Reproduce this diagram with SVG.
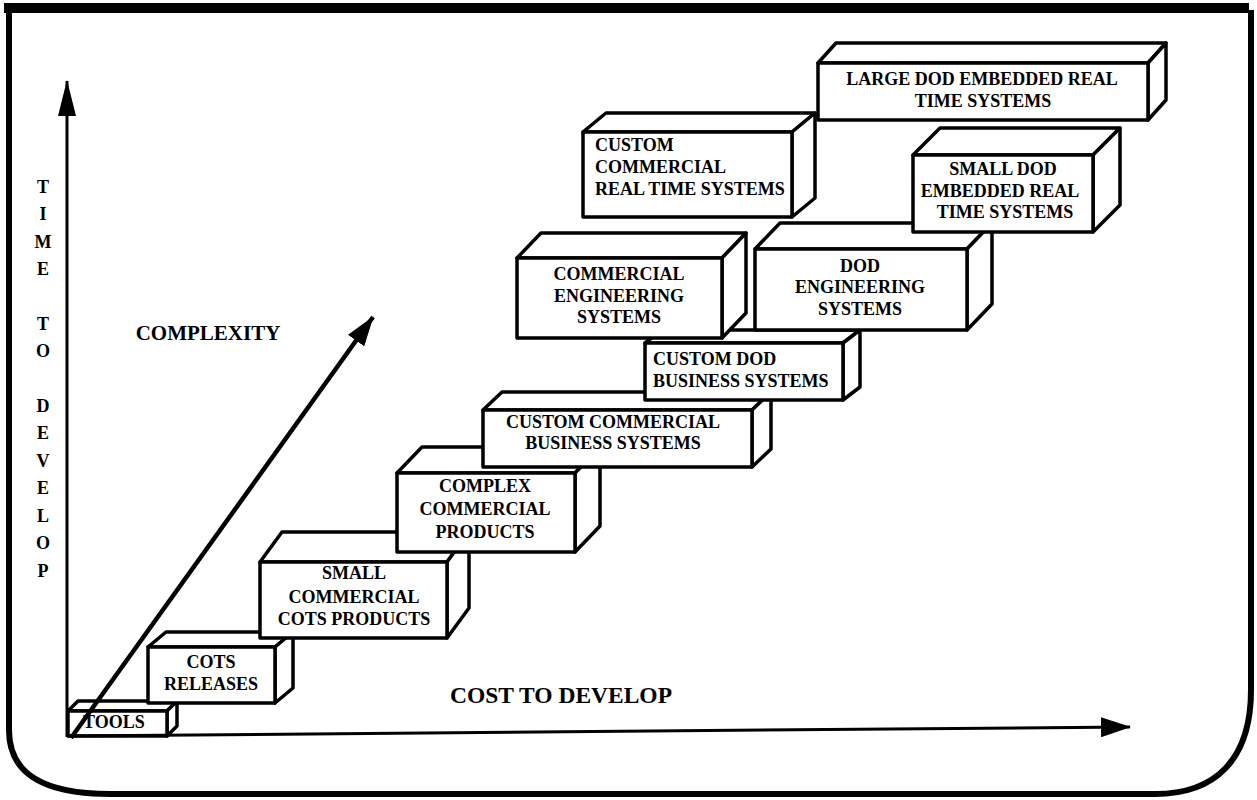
<svg xmlns="http://www.w3.org/2000/svg" width="1257" height="800" viewBox="0 0 1257 800">
<defs>
<style>
.box polygon, .box rect { fill:#fff; stroke:#000; stroke-width:3.5; stroke-linejoin:round; }
.box text { font-family:"Liberation Serif", serif; font-weight:bold; font-size:18px; fill:#000; text-anchor:middle; }
.box text.l { text-anchor:start; }
.lbl { font-family:"Liberation Serif", serif; font-weight:bold; fill:#000; }
.axis { stroke:#000; fill:none; }
</style>
<marker id="ah" viewBox="0 0 30 20" refX="29" refY="10" markerWidth="30" markerHeight="20" markerUnits="userSpaceOnUse" orient="auto">
<path d="M0,0 L30,10 L0,20 z" fill="#000"/>
</marker>
<marker id="ahy" viewBox="0 0 36 18" refX="35" refY="9" markerWidth="36" markerHeight="18" markerUnits="userSpaceOnUse" orient="auto">
<path d="M0,0 L36,9 L0,18 z" fill="#000"/>
</marker>
</defs>
<rect width="1257" height="800" fill="#fff"/>
<g id="frame">
<rect x="4" y="3" width="1245" height="10" fill="#000"/>
<path d="M9,10 V730 C9,775 45,794 110,794 H1155 C1215,794 1251,760 1251,690 V10" fill="none" stroke="#000" stroke-width="6"/>
</g>
<g id="axis-labels" class="lbl">
<g font-size="18" text-anchor="middle">
<text x="43" y="193">T</text><text x="43" y="220">I</text><text x="43" y="248">M</text><text x="43" y="275">E</text>
<text x="43" y="330">T</text><text x="43" y="357">O</text>
<text x="43" y="412">D</text><text x="43" y="439">E</text><text x="43" y="467">V</text><text x="43" y="494">E</text><text x="43" y="522">L</text><text x="43" y="549">O</text><text x="43" y="577">P</text>
</g>
<text x="208" y="340" font-size="21" text-anchor="middle">COMPLEXITY</text>
<text x="561" y="703" font-size="23.5" text-anchor="middle">COST TO DEVELOP</text>
</g>
<g id="tools" class="box">
<polygon points="68,711 78,701 177,701 167,711"/>
<polygon points="167,711 177,701 177,726 167,736"/>
<rect x="68" y="711" width="99" height="25" stroke-width="2.8"/>
<text class="l" x="83" y="728" font-size="17">TOOLS</text>
</g>
<g id="cots-releases" class="box">
<polygon points="148,647 166,632 293,632 275,647"/>
<polygon points="275,647 293,632 293,688 275,703"/>
<rect x="148" y="647" width="127" height="56"/>
<text x="211" y="668">COTS</text>
<text x="211" y="690">RELEASES</text>
</g>
<g id="small-commercial-cots" class="box">
<polygon points="260,562 282,532 469,532 447,562"/>
<polygon points="447,562 469,532 469,608 447,638"/>
<rect x="260" y="562" width="187" height="76"/>
<text x="354" y="579">SMALL</text>
<text x="354" y="603">COMMERCIAL</text>
<text x="354" y="625">COTS PRODUCTS</text>
</g>
<g id="complex-commercial" class="box">
<polygon points="397,473 422,447 600,447 575,473"/>
<polygon points="575,473 600,447 600,526 575,552"/>
<rect x="397" y="473" width="178" height="79"/>
<text x="485" y="492">COMPLEX</text>
<text x="485" y="515">COMMERCIAL</text>
<text x="485" y="538">PRODUCTS</text>
</g>
<g id="custom-commercial-business" class="box">
<polygon points="483,410 502,392 771,392 752,410"/>
<polygon points="752,410 771,392 771,449 752,467"/>
<rect x="483" y="410" width="269" height="57"/>
<text x="613" y="428">CUSTOM COMMERCIAL</text>
<text x="613" y="449">BUSINESS SYSTEMS</text>
</g>
<g id="custom-dod-business" class="box">
<polygon points="645,343 662,330 860,330 843,343"/>
<polygon points="843,343 860,330 860,387 843,400"/>
<rect x="645" y="343" width="198" height="57"/>
<text class="l" x="653" y="365">CUSTOM DOD</text>
<text class="l" x="653" y="387">BUSINESS SYSTEMS</text>
</g>
<g id="commercial-engineering" class="box">
<polygon points="517,258 541,233 746,233 722,258"/>
<polygon points="722,258 746,233 746,313 722,338"/>
<rect x="517" y="258" width="205" height="80"/>
<text x="619" y="280">COMMERCIAL</text>
<text x="619" y="302">ENGINEERING</text>
<text x="619" y="323">SYSTEMS</text>
</g>
<g id="dod-engineering" class="box">
<polygon points="755,249 780,223 992,223 967,249"/>
<polygon points="967,249 992,223 992,304 967,330"/>
<rect x="755" y="249" width="212" height="81"/>
<text x="860" y="272">DOD</text>
<text x="860" y="293">ENGINEERING</text>
<text x="860" y="315">SYSTEMS</text>
</g>
<g id="custom-commercial-real-time" class="box">
<polygon points="583,132 606,113 815,113 792,132"/>
<polygon points="792,132 815,113 815,198 792,217"/>
<rect x="583" y="132" width="209" height="85"/>
<text class="l" x="595" y="151">CUSTOM</text>
<text class="l" x="595" y="173">COMMERCIAL</text>
<text class="l" x="595" y="195">REAL TIME SYSTEMS</text>
</g>
<g id="small-dod-embedded" class="box">
<polygon points="913,155 940,128 1120,128 1093,155"/>
<polygon points="1093,155 1120,128 1120,205 1093,232"/>
<rect x="913" y="155" width="180" height="77"/>
<text x="1003" y="175">SMALL DOD</text>
<text x="1000" y="197">EMBEDDED REAL</text>
<text x="1005" y="218">TIME SYSTEMS</text>
</g>
<g id="large-dod-embedded" class="box">
<polygon points="818,63 836,43 1166,43 1148,63"/>
<polygon points="1148,63 1166,43 1166,100 1148,120"/>
<rect x="818" y="63" width="330" height="57"/>
<text x="982" y="85">LARGE DOD EMBEDDED REAL</text>
<text x="983" y="107">TIME SYSTEMS</text>
</g>
<g id="connectors">
<line class="axis" x1="67" y1="737" x2="67" y2="81" stroke-width="3" marker-end="url(#ahy)"/>
<line class="axis" x1="67" y1="736" x2="1130" y2="727" stroke-width="3" marker-end="url(#ah)"/>
<line class="axis" x1="71" y1="738" x2="373" y2="317" stroke-width="4.5" marker-end="url(#ah)"/>
</g>
</svg>
